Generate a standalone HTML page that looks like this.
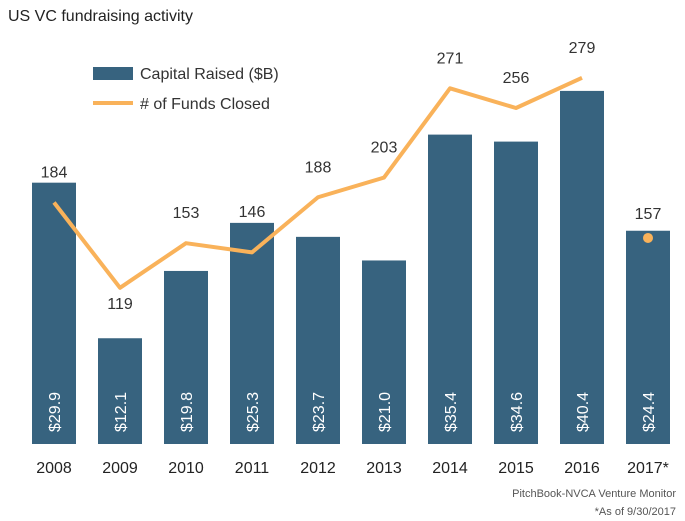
<!DOCTYPE html>
<html><head><meta charset="utf-8"><style>
body{margin:0;background:#fff;font-family:"Liberation Sans",sans-serif;}
svg{display:block}
</style></head><body>
<svg id="c" width="685" height="521">
<text x="8" y="21" font-size="16" fill="#222">US VC fundraising activity</text>
<g>
<rect x="93" y="67" width="40" height="13" fill="#37637f"/>
<text x="140" y="79" font-size="16" fill="#333">Capital Raised ($B)</text>
<line x1="93" y1="103" x2="133" y2="103" stroke="#f9b25a" stroke-width="4"/>
<text x="140" y="109" font-size="16" fill="#333"># of Funds Closed</text>
</g>
<g id="bars"></g><g id="line"></g><g id="labels"></g>
<text x="676" y="497" font-size="11" fill="#555" text-anchor="end">PitchBook-NVCA Venture Monitor</text>
<text x="676" y="515" font-size="11" fill="#555" text-anchor="end">*As of 9/30/2017</text>
</svg>
<script>
const years=["2008","2009","2010","2011","2012","2013","2014","2015","2016","2017*"];
const capital=[29.9,12.1,19.8,25.3,23.7,21.0,35.4,34.6,40.4,24.4];
const funds=[184,119,153,146,188,203,271,256,279,157];
const ns="http://www.w3.org/2000/svg";
const base=444;
const xC=i=>54+i*66;
const yCap=v=>base-v*8.74;
const yF=v=>base-v*1.3125;
function mk(t,a,p){const e=document.createElementNS(ns,t);for(const k in a)e.setAttribute(k,a[k]);p.appendChild(e);return e;}
const B=document.getElementById('bars'),L=document.getElementById('line'),T=document.getElementById('labels');
capital.forEach((v,i)=>{
 const r=mk('rect',{x:xC(i)-22,y:yCap(v),width:44,height:base-yCap(v),fill:'#37637f'},B);
 
 
 const t=mk('text',{x:0,y:0,transform:`translate(${xC(i)+6},432) rotate(-90)`,'font-size':'16',fill:'#fff'},B);
 t.textContent='$'+v.toFixed(1);
 
 
 const y=mk('text',{x:xC(i),y:473,'font-size':'16','text-anchor':'middle',fill:'#222'},T);
 y.textContent=years[i];
 
 
});
const pts=funds.slice(0,9).map((v,i)=>xC(i)+','+yF(v)).join(' ');
const pl=mk('polyline',{points:pts,fill:'none',stroke:'#f9b25a','stroke-width':4,'stroke-linejoin':'round'},L);


const d=mk('circle',{cx:xC(9),cy:yF(funds[9]),r:5,fill:'#f9b25a'},L);


funds.forEach((v,i)=>{
 let y=yF(v)-25;
 if(i===1)y=yF(v)+21;
 if(i===3)y=Math.min(y,yCap(capital[i])-6);
 if(i===9)y=yF(v)-19;
 const t=mk('text',{x:xC(i),y:y,'font-size':'16','text-anchor':'middle',fill:'#333'},T);
 t.textContent=v;
 
 
});
</script>
</body></html>
